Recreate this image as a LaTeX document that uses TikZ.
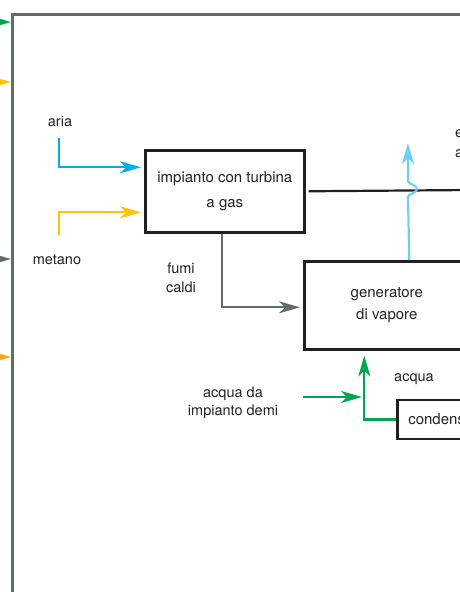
\documentclass[tikz,border=0pt]{standalone}
\usepackage{fontspec}
\setmainfont{TeX Gyre Heros}
\usetikzlibrary{arrows.meta}
\definecolor{ink}{HTML}{231F20}
\definecolor{framegray}{HTML}{5F6E68}
\definecolor{airblue}{HTML}{00AEEF}
\definecolor{gasyellow}{HTML}{FFC20E}
\definecolor{watergreen}{HTML}{00A651}
\definecolor{steamblue}{HTML}{6DCFF6}
\definecolor{flowgold}{HTML}{F7A81B}

\begin{document}
\begin{tikzpicture}[x=1pt,y=-1pt,
  >={Stealth[length=21pt,width=12pt,inset=6pt]},
  unitbox/.style={draw=ink, line width=2.6pt, anchor=north west, inner sep=0pt,
    text=ink, align=center},
  lbl/.style={font=\fontsize{14.5}{19}\selectfont, text=ink, align=center, inner sep=0pt},
  flow/.style={line width=2.2pt, ->},
]
\useasboundingbox (0,0) rectangle (460,592);
\clip (0,0) rectangle (460,592);

% plant boundary
\coordinate (fb) at (12,600);
\coordinate (fc) at (12,14);
\coordinate (fr) at (470,14);
\draw[framegray, line width=3pt] (fb) -- (fc) -- (fr);

% streams entering the boundary from outside
\foreach \yy/\cc/\nn in {22/watergreen/ina, 82/gasyellow/inb, 259/framegray/inc, 357/flowgold/ind} {
  \coordinate (\nn0) at (-14,\yy);
  \coordinate (\nn1) at (11,\yy);
  \draw[flow, \cc] (\nn0) -- (\nn1);
}

% units
\node[unitbox, minimum width=159pt, minimum height=82pt,
      font=\fontsize{15}{25}\selectfont] (tg) at (144,149) {impianto con turbina\\a gas};
\node[unitbox, minimum width=165pt, minimum height=88pt,
      font=\fontsize{15}{22}\selectfont] (gv) at (303,260) {generatore\\di vapore};
\node[unitbox, anchor=west, minimum height=39pt, text width=118pt, align=left,
      inner xsep=11pt, font=\fontsize{15}{18}\selectfont] (cd) at (396,419.5) {condens};

% electrical output line
\coordinate (eout) at (470,190);
\draw[ink, line width=2.2pt, shorten <=3pt] (tg.east) -- (eout);

% air and methane feeds
\coordinate (a0) at (59,138);
\draw[flow, airblue, shorten >=3pt] (a0) |- ([yshift=24pt]tg.west);
\coordinate (m0) at (59,235);
\draw[flow, gasyellow, shorten >=3pt] (m0) |- ([yshift=-21pt]tg.west);

% hot exhaust to the steam generator
\draw[flow, framegray, shorten >=3pt] ([xshift=-2.5pt]tg.south) |- ([yshift=-2pt]gv.west);

% steam leaving the generator, hopping over the electrical line
\coordinate (s1) at (408,197);
\coordinate (s2) at (417,189);
\coordinate (s3) at (408,181);
\coordinate (s4) at (408,143);
\draw[flow, steamblue] ([xshift=22.5pt]gv.north) -- (s1)
  .. controls (408,194) and (417,193) .. (s2)
  .. controls (417,185) and (408,184) .. (s3) -- (s4);

% demineralised water and condensate return
\coordinate (w0) at (303,397);
\coordinate (wj) at (363,397);
\draw[flow, watergreen, shorten >=1pt] (w0) -- (wj);
\draw[flow, watergreen, shorten >=5pt] (cd.west) -| ([xshift=-22.5pt]gv.south);

% labels
\node[lbl, anchor=base] (laria) at (60,126) {aria};
\node[lbl, anchor=base] (lmet) at (57,264) {metano};
\node[lbl] (lfumi) at (181,278) {fumi\\caldi};
\node[lbl, font=\fontsize{14.5}{18}\selectfont] (ldemi) at (233,403) {acqua da\\impianto demi};
\node[lbl, anchor=base] (lacq) at (414,381) {acqua};
\node[lbl, anchor=north west, align=left, font=\fontsize{14.5}{20}\selectfont] (lel) at (455,129) {e\\a};
\end{tikzpicture}
\end{document}
